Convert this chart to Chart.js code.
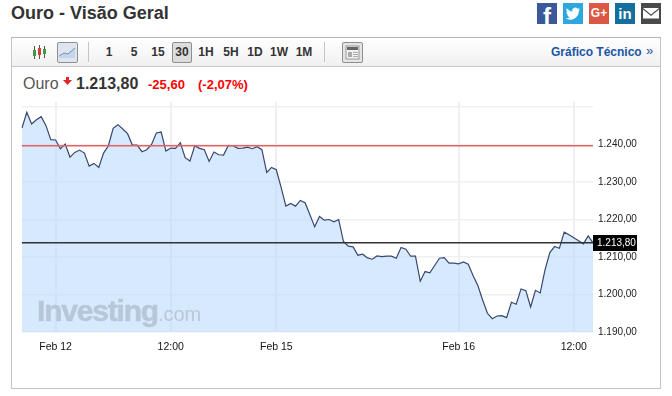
<!DOCTYPE html>
<html lang="pt">
<head>
<meta charset="utf-8">
<title>Ouro - Visão Geral</title>
<script src="https://cdn.jsdelivr.net/npm/chart.js@4"></script>
<style>
  html, body { margin: 0; padding: 0; background: #fff; }
  body { width: 672px; height: 396px; position: relative; overflow: hidden; font-family: "Liberation Sans", Arial, sans-serif; color: #333; }
  .abs { position: absolute; white-space: nowrap; }
  #title { left: 11px; top: 2px; font-size: 18px; line-height: 22px; font-weight: bold; color: #333; }
  #frame { left: 11px; top: 37px; width: 648px; height: 350px; border: 1px solid #c4c4c4; border-top-color: #b5b5b5; }
  #toolbar { left: 12px; top: 38px; width: 648px; height: 28px; background: linear-gradient(#fff, #f0f0f0); border-bottom: 1px solid #c8c8c8; }
  .btn { top: 45px; font-size: 12px; line-height: 14px; font-weight: bold; color: #333; transform: translateX(-50%); }
  #active { left: 172px; top: 42px; width: 18px; height: 19px; background: #dcdcdc; border: 1px solid #8f8f8f; border-radius: 2px; }
  #lineBtn { left: 57px; top: 42px; width: 19px; height: 19px; background: #dfe5ee; border: 1px solid #8f8f8f; border-radius: 2px; }
  #newsBtn { left: 342px; top: 42px; width: 19px; height: 19px; background: #e4e4e4; border: 1px solid #8f8f8f; border-radius: 2px; }
  .sep { top: 42px; width: 1px; height: 20px; background: #c4c4c4; }
  #tech { left: 551px; top: 45px; font-size: 12px; line-height: 14px; font-weight: bold; color: #1a55a5; }
  #techArrow { left: 646px; top: 44px; font-size: 13px; line-height: 14px; color: #1a55a5; }
  #name { left: 23px; top: 75px; font-size: 16px; line-height: 18px; color: #555; }
  #price { left: 76px; top: 75px; font-size: 16px; line-height: 18px; font-weight: bold; color: #333; }
  .chg { top: 77px; font-size: 13px; line-height: 16px; font-weight: bold; color: #f00; }
  .soc { top: 3px; width: 20px; height: 21px; color: #fff; font-weight: bold; text-align: center; overflow: hidden; }
  #chart { position: absolute; left: 0; top: 0; }
  #mark { left: 37px; top: 293px; font-size: 30px; line-height: 36px; font-weight: bold; letter-spacing: -1.2px; color: #b7c7da; -webkit-text-stroke: 0.5px #b7c7da; }
  #mark span { font-size: 20px; font-weight: normal; letter-spacing: 0; color: #b9c8da; -webkit-text-stroke: 0; }
</style>
</head>
<body>
<div class="abs" id="title">Ouro - Visão Geral</div>

<div class="abs soc" style="left:537px;background:#3b5998;font-size:24px;line-height:27px;">f</div>
<div class="abs soc" style="left:563px;background:#2ca7e0;">
  <svg width="20" height="21" viewBox="0 0 20 21"><path fill="#fff" d="M17 6.2c-.6.3-1.200.4-1.800.5.600-.4 1.100-1 1.300-1.700-.6.3-1.300.6-2 .7a3 3 0 0 0-5.200 2.800C7.500 8.400 5.300 7.200 3.800 5.300c-.8 1.400-.4 3.100.9 4-.5 0-1-.2-1.400-.4 0 1.500 1 2.800 2.400 3.100-.4.1-.9.100-1.400 0 .4 1.200 1.500 2.100 2.800 2.100a6 6 0 0 1-4.400 1.200 8.500 8.500 0 0 0 13.100-7.500c.5-.4 1-.9 1.200-1.600z"/></svg>
</div>
<div class="abs soc" style="left:589px;background:#dd5844;font-size:12px;line-height:21px;">G+</div>
<div class="abs soc" style="left:615px;background:#13709e;font-size:15px;line-height:22px;">in</div>
<div class="abs soc" style="left:641px;background:#4a4a4a;">
  <svg width="20" height="21" viewBox="0 0 20 21"><path fill="#fff" d="M2 5h16l-8 6.500z"/><path fill="#fff" d="M2 6.500v9h16v-9l-8 6.500z"/></svg>
</div>

<div class="abs" id="frame"></div>
<div class="abs" id="toolbar"></div>

<svg class="abs" style="left:32px;top:44px" width="16" height="17" viewBox="0 0 16 17">
  <path stroke="#555" d="M2.500 2v13M7.500 1v14M12.500 2v12"/>
  <rect x="1" y="6" width="3" height="6" fill="#3c9b3c"/>
  <rect x="6" y="4" width="3" height="7" fill="#d23c3c"/>
  <rect x="11" y="5" width="3" height="5" fill="#3c9b3c"/>
</svg>
<div class="abs" id="lineBtn">
  <svg width="19" height="19" viewBox="0 0 19 19"><path fill="#c6d6ea" d="M1 13l5-3 4 1 7-6v10H1z"/><path fill="none" stroke="#6f8fb5" d="M1 13l5-3 4 1 7-6"/></svg>
</div>
<div class="abs sep" style="left:88px"></div>
<div class="abs" id="active"></div>
<div class="abs btn" style="left:109px">1</div>
<div class="abs btn" style="left:134px">5</div>
<div class="abs btn" style="left:158px">15</div>
<div class="abs btn" style="left:182px">30</div>
<div class="abs btn" style="left:206px">1H</div>
<div class="abs btn" style="left:231px">5H</div>
<div class="abs btn" style="left:255px">1D</div>
<div class="abs btn" style="left:279px">1W</div>
<div class="abs btn" style="left:304px">1M</div>
<div class="abs sep" style="left:324px"></div>
<div class="abs" id="newsBtn">
  <svg width="19" height="19" viewBox="0 0 19 19"><rect x="3" y="3" width="13" height="13" fill="#f2f2f2" stroke="#999"/><rect x="4" y="4" width="11" height="3" fill="#666"/><rect x="5" y="9" width="4" height="5" fill="#aaa"/><path stroke="#aaa" d="M10 9.500h5M10 11.500h5M10 13.500h5"/></svg>
</div>
<div class="abs" id="tech">Gráfico Técnico</div>
<div class="abs" id="techArrow">»</div>

<div class="abs" id="name">Ouro</div>
<svg class="abs" style="left:63px;top:77px" width="9" height="8" viewBox="0 0 9 8"><path fill="#e0252b" d="M3 0h3v3h3L4.500 8 0 3h3z"/></svg>
<div class="abs" id="price">1.213,80</div>
<div class="abs chg" style="left:148px">-25,60</div>
<div class="abs chg" style="left:198px">(-2,07%)</div>

<canvas id="chart" width="672" height="396"></canvas>
<div class="abs" id="mark">Investing<span>.com</span></div>

<script>
// ==== Data ====
const xLabels = [
  "", "", "", "", "", "", "", "Feb 12", "", "", "", "", "", "", "", "", "", "", "", "",
  "", "", "", "", "", "", "", "", "", "", "", "12:00", "", "", "", "", "", "", "", "",
  "", "", "", "", "", "", "", "", "", "", "", "", "", "Feb 15", "", "", "", "", "", "",
  "", "", "", "", "", "", "", "", "", "", "", "", "", "", "", "", "", "", "", "",
  "", "", "", "", "", "", "", "", "", "", "", "Feb 16", "", "", "", "", "", "", "", "",
  "", "", "", "", "", "", "", "", "", "", "", "", "", "", "", "12:00", "", "", "", ""
];
const goldPrices = [
  1244.45, 1248.64, 1245.52, 1246.68, 1247.48, 1245.08, 1241.33, 1241.25, 1238.93, 1240.18,
  1236.70, 1237.95, 1238.57, 1237.77, 1234.29, 1235.01, 1233.94, 1237.77, 1239.73, 1244.36,
  1245.35, 1244.19, 1242.94, 1239.91, 1239.91, 1238.13, 1238.66, 1240.09, 1243.12, 1243.38,
  1238.30, 1239.11, 1239.02, 1240.53, 1236.52, 1235.63, 1239.73, 1239.02, 1238.66, 1235.54,
  1238.04, 1237.32, 1237.23, 1239.82, 1239.73, 1239.02, 1239.11, 1239.37, 1238.93, 1239.46,
  1238.66, 1232.60, 1233.94, 1233.31, 1228.59, 1223.60, 1224.31, 1223.60, 1225.11, 1224.49,
  1221.28, 1218.07, 1220.83, 1219.85, 1220.03, 1219.41, 1220.03, 1214.15, 1212.90, 1212.72,
  1210.50, 1210.76, 1209.78, 1209.43, 1210.32, 1210.14, 1210.23, 1210.23, 1209.69, 1212.55,
  1212.10, 1210.23, 1210.23, 1203.55, 1206.13, 1205.77, 1207.74, 1209.70, 1209.87, 1208.36,
  1208.36, 1208.18, 1208.72, 1208.09, 1205.06, 1202.39, 1198.55, 1194.99, 1193.56, 1194.28,
  1194.37, 1193.83, 1197.93, 1197.40, 1201.50, 1201.05, 1196.68, 1201.14, 1200.43, 1206.58,
  1211.21, 1212.82, 1212.37, 1216.65, 1215.94, 1215.13, 1214.33, 1213.53, 1215.67, 1213.80
];
const yTickValues = [1190, 1200, 1210, 1220, 1230, 1240, 1250];
const yTickLabels = ["1.190,00", "1.200,00", "1.210,00", "1.220,00", "1.230,00", "1.240,00", ""];
const prevClose = 1239.7;
const lastPrice = 1213.8;
const lastPriceLabel = "1.213,80";

// ==== Price tag on the right axis ====
const priceTag = {
  id: "priceTag",
  afterDraw(chart) {
    const { ctx, scales: { x, y } } = chart;
    const py = Math.round(y.getPixelForValue(lastPrice));
    ctx.save();
    ctx.fillStyle = "#000";
    ctx.fillRect(x.right, py - 8, 44, 16);
    ctx.fillStyle = "#fff";
    ctx.font = '10px "Liberation Sans", Arial, sans-serif';
    ctx.textBaseline = "middle";
    ctx.fillText(lastPriceLabel, x.right + 4, py + 0.5);
    ctx.restore();
  }
};

// ==== Chart ====
new Chart(document.getElementById("chart"), {
  type: "line",
  plugins: [priceTag],
  data: {
    labels: xLabels,
    datasets: [
      {
        data: goldPrices,
        borderColor: "#39476f",
        borderWidth: 1.2,
        backgroundColor: "rgba(180, 215, 252, 0.55)",
        fill: "start",
        pointRadius: 0,
        tension: 0,
        order: 3
      },
      {
        data: xLabels.map(() => prevClose),
        borderColor: "#e8605f",
        borderWidth: 1.5,
        pointRadius: 0,
        fill: false,
        order: 2
      },
      {
        data: xLabels.map(() => lastPrice),
        borderColor: "#333",
        borderWidth: 1.5,
        pointRadius: 0,
        fill: false,
        order: 1
      }
    ]
  },
  options: {
    responsive: false,
    animation: false,
    layout: { padding: { left: 22, top: 102, right: 0, bottom: 0 } },
    plugins: { legend: { display: false }, tooltip: { enabled: false } },
    scales: {
      x: {
        border: { display: false },
        grid: { color: "#eff0f6", lineWidth: 2, drawTicks: false },
        afterBuildTicks: scale => {
          scale.ticks = scale.ticks.filter(t => xLabels[t.value] !== "");
        },
        afterFit: scale => { scale.height = 64; },
        ticks: {
          autoSkip: false,
          maxRotation: 0,
          padding: 9,
          color: "#111",
          font: { family: '"Liberation Sans", Arial, sans-serif', size: 10.5 }
        }
      },
      y: {
        position: "right",
        min: 1190,
        max: 1251.4,
        border: { display: false },
        grid: { color: "#eff0f6", lineWidth: 1.5, drawTicks: false },
        afterBuildTicks: scale => {
          scale.ticks = yTickValues.map(value => ({ value }));
        },
        afterFit: scale => { scale.width = 79; },
        ticks: {
          padding: 5,
          color: "#222",
          font: { family: '"Liberation Sans", Arial, sans-serif', size: 10 },
          callback: value => yTickLabels[yTickValues.indexOf(value)]
        }
      }
    }
  }
});
</script>
</body>
</html>
